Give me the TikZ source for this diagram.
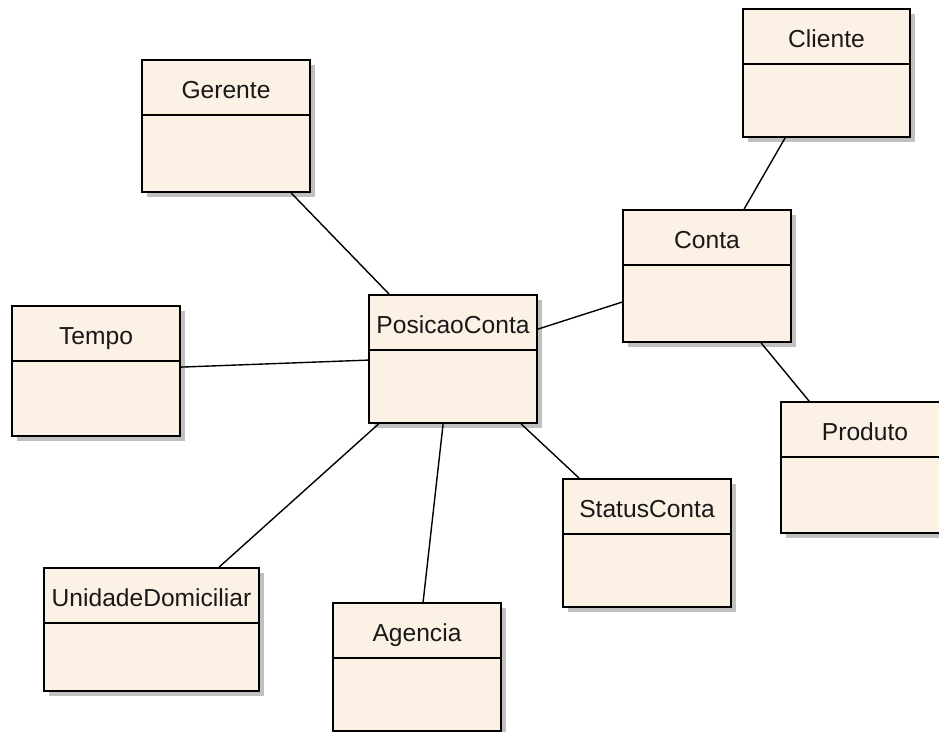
\documentclass[tikz,border=0pt]{standalone}
\usepackage{fontspec}
\setmainfont{Liberation Sans}
\usetikzlibrary{shadows}
\definecolor{classfill}{HTML}{FBF1E4}
\definecolor{shadowgray}{HTML}{C0C0C0}
\tikzset{
  cls/.style={draw=black, fill=classfill, line width=1.8pt, inner sep=0pt,
    drop shadow={shadow xshift=5pt, shadow yshift=-5pt, fill=shadowgray, opacity=1}},
  divider/.style={draw=black, line width=1.5pt},
  title/.style={font=\fontsize{24.6}{29}\selectfont, text=black!90, inner sep=0pt, anchor=base},
  assoc/.style={draw=black, line width=1.4pt}
}
% \umlclass{name}{center x}{center y}{width}{height}{title}
\newcommand\umlclass[6]{%
  \node[cls, minimum width=#4pt, minimum height=#5pt] (#1) at (#2,#3) {};
  \draw[divider] ([yshift=-56pt]#1.north west) -- ([yshift=-56pt]#1.north east);
  \node[title] (#1-t) at ([yshift=-39pt]#1.north) {#6};
}
\begin{document}
\begin{tikzpicture}[x=1pt, y=-1pt]
  \useasboundingbox[fill=white] (0,0) rectangle (939,731);

  \umlclass{ger}{226}{126}{168}{132}{Gerente}
  \umlclass{cli}{826.5}{73}{167}{128}{Cliente}
  \umlclass{con}{707}{276}{168}{132}{Conta}
  \umlclass{tem}{96}{371}{168}{130}{Tempo}
  \umlclass{pos}{453}{359}{168}{128}{PosicaoConta}
  \umlclass{pro}{865}{467.5}{168}{131}{Produto}
  \umlclass{sta}{647}{543}{168}{128}{StatusConta}
  \umlclass{uni}{151.5}{629.5}{215}{123}{UnidadeDomiciliar}
  \umlclass{age}{417}{667}{168}{128}{Agencia}

  % associations
  \draw[assoc] ([xshift=150pt]ger.south west) -- ([xshift=21pt]pos.north west);
  \draw[assoc] ([xshift=43pt]cli.south west) -- ([xshift=122pt]con.north west);
  \draw[assoc] ([yshift=-93pt]con.north west) -- ([yshift=-35pt]pos.north east);
  \draw[assoc] ([xshift=139pt]con.south west) -- ([xshift=29pt]pro.north west);
  \draw[assoc] ([yshift=-62pt]tem.north east) -- ([yshift=-66pt]pos.north west);
  \draw[assoc] ([xshift=10.5pt]pos.south west) -- ([xshift=176pt]uni.north west);
  \draw[assoc] ([xshift=75pt]pos.south west) -- ([xshift=91pt]age.north west);
  \draw[assoc] ([xshift=153pt]pos.south west) -- ([xshift=17pt]sta.north west);
\end{tikzpicture}
\end{document}
